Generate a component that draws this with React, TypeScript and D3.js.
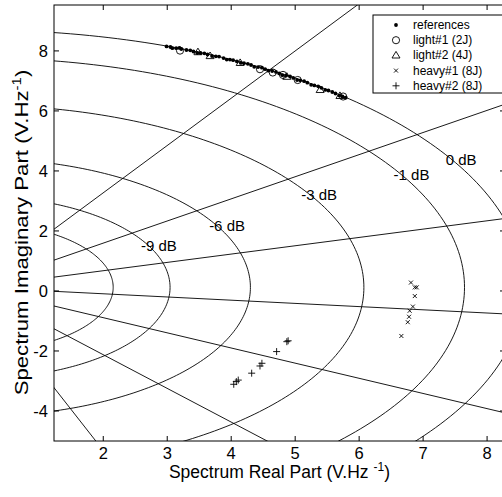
import React from 'react';
import * as d3 from 'd3';

const W = 502;
const H = 497;
const PLOT = { left: 54, top: 5, right: 505, bottom: 441 };

const X_DOMAIN: [number, number] = [1.23, 8.28];
const Y_DOMAIN: [number, number] = [-5.0, 9.53];
const X_TICKS = [2, 3, 4, 5, 6, 7, 8];
const Y_TICKS = [-4, -2, 0, 2, 4, 6, 8];

// constant-magnitude (dB) circles and constant-phase lines
const GRID_CX = 0;
const GRID_CY = 0.12;
const GRID_R0 = 8.58;
const DB_LEVELS = [0, -1, -3, -6, -9, -12];
const DB_LABEL_LEVELS = [0, -1, -3, -6, -9];
const DB_LABEL_ANGLES = [29.9, 29.4, 30.8, 28.5, 27.0];
const PHASE_ANGLES = [57.6, 36.4, 15.5, -6.1, -26.8, -48.3, -69.8];

const REF_X = [2.99, 3.05, 3.08, 3.14, 3.19, 3.22, 3.30, 3.36, 3.41, 3.47, 3.52, 3.58, 3.63, 3.70, 3.76, 3.81, 3.88, 3.93, 3.98, 4.03, 4.09, 4.15, 4.20, 4.26, 4.31, 4.36, 4.42, 4.48, 4.53, 4.58, 4.64, 4.70, 4.75, 4.80, 4.86, 4.92, 4.97, 5.03, 5.08, 5.14, 5.19, 5.25, 5.30, 5.36, 5.41, 5.47, 5.52, 5.58, 5.63, 5.69, 5.74, 5.79];
const REF_Y = [8.15, 8.13, 8.09, 8.09, 8.10, 8.06, 8.03, 8.02, 7.98, 7.93, 7.93, 7.92, 7.88, 7.83, 7.82, 7.81, 7.76, 7.71, 7.71, 7.69, 7.65, 7.60, 7.59, 7.57, 7.53, 7.47, 7.46, 7.44, 7.39, 7.34, 7.33, 7.30, 7.25, 7.19, 7.18, 7.15, 7.10, 7.03, 7.02, 6.99, 6.94, 6.87, 6.85, 6.82, 6.77, 6.70, 6.68, 6.63, 6.58, 6.51, 6.48, 6.44];

const LIGHT1_X = [3.20, 4.45, 4.65, 4.81, 5.04, 5.75];
const LIGHT1_Y = [8.01, 7.39, 7.28, 7.20, 7.03, 6.48];

const LIGHT2_X = [3.48, 3.67, 4.14, 4.87, 5.39, 5.70];
const LIGHT2_Y = [7.96, 7.83, 7.60, 7.14, 6.70, 6.50];

const HEAVY1_X = [6.81, 6.87, 6.90, 6.87, 6.84, 6.79, 6.78, 6.76, 6.66];
const HEAVY1_Y = [0.28, 0.12, 0.12, -0.17, -0.52, -0.66, -0.86, -1.04, -1.50];

const HEAVY2_X = [4.89, 4.87, 4.71, 4.48, 4.45, 4.32, 4.11, 4.08, 4.04];
const HEAVY2_Y = [-1.66, -1.69, -2.02, -2.41, -2.50, -2.74, -2.97, -3.02, -3.11];

const LEGEND_LABELS = ['references', 'light#1 (2J)', 'light#2 (4J)', 'heavy#1 (8J)', 'heavy#2 (8J)'];

const FONT = '"Liberation Sans", Arial, Helvetica, sans-serif';

type Kind = 'dot' | 'circle' | 'tri' | 'x' | 'plus';

function Marker({ kind, cx, cy }: { kind: Kind; cx: number; cy: number }) {
  if (kind === 'dot') return <circle cx={cx} cy={cy} r={1.9} fill="#000" />;
  if (kind === 'circle') return <circle cx={cx} cy={cy} r={3.6} fill="none" stroke="#000" strokeWidth={0.9} />;
  if (kind === 'tri')
    return (
      <path
        d={`M${cx},${cy - 4} L${cx + 4},${cy + 2.6} L${cx - 4},${cy + 2.6} Z`}
        fill="none"
        stroke="#000"
        strokeWidth={0.9}
      />
    );
  if (kind === 'x')
    return (
      <path
        d={`M${cx - 2},${cy - 2} L${cx + 2},${cy + 2} M${cx - 2},${cy + 2} L${cx + 2},${cy - 2}`}
        stroke="#000"
        strokeWidth={0.9}
      />
    );
  return (
    <path
      d={`M${cx - 3.5},${cy} L${cx + 3.5},${cy} M${cx},${cy - 3.5} L${cx},${cy + 3.5}`}
      stroke="#000"
      strokeWidth={0.9}
    />
  );
}

export default function App() {
  const x = d3.scaleLinear().domain(X_DOMAIN).range([PLOT.left, PLOT.right]);
  const y = d3.scaleLinear().domain(Y_DOMAIN).range([PLOT.bottom, PLOT.top]);

  const line = d3
    .line<[number, number]>()
    .x((d) => x(d[0]))
    .y((d) => y(d[1]));

  const radius = (db: number) => GRID_R0 * Math.pow(10, db / 20);
  const circlePath = (r: number) =>
    line(d3.range(0, 361, 1).map((a) => [GRID_CX + r * Math.cos((a * Math.PI) / 180), GRID_CY + r * Math.sin((a * Math.PI) / 180)] as [number, number]));
  const rayPath = (deg: number) => {
    const t = (deg * Math.PI) / 180;
    return line([
      [GRID_CX, GRID_CY],
      [GRID_CX + 40 * Math.cos(t), GRID_CY + 40 * Math.sin(t)],
    ]);
  };

  const series: { kind: Kind; xs: number[]; ys: number[] }[] = [
    { kind: 'dot', xs: REF_X, ys: REF_Y },
    { kind: 'circle', xs: LIGHT1_X, ys: LIGHT1_Y },
    { kind: 'tri', xs: LIGHT2_X, ys: LIGHT2_Y },
    { kind: 'x', xs: HEAVY1_X, ys: HEAVY1_Y },
    { kind: 'plus', xs: HEAVY2_X, ys: HEAVY2_Y },
  ];

  const legendX = 373;
  const legendY = 15;
  const rowH = 15.2;

  return (
    <svg
      width={W}
      height={H}
      viewBox={`0 0 ${W} ${H}`}
      style={{ position: 'absolute', left: 0, top: 0, background: '#fff' }}
      fontFamily={FONT}
    >
      <defs>
        <clipPath id="plotClip">
          <rect x={PLOT.left} y={PLOT.top} width={PLOT.right - PLOT.left} height={PLOT.bottom - PLOT.top} />
        </clipPath>
      </defs>
      <rect x={0} y={0} width={W} height={H} fill="#fff" />

      <g clipPath="url(#plotClip)" fill="none" stroke="#000" strokeWidth={0.9}>
        {DB_LEVELS.map((db) => (
          <path key={`c${db}`} d={circlePath(radius(db)) || ''} />
        ))}
        {PHASE_ANGLES.map((a) => (
          <path key={`l${a}`} d={rayPath(a) || ''} />
        ))}
      </g>

      <g fontSize={15} fill="#000">
        {DB_LABEL_LEVELS.map((db, i) => {
          const t = (DB_LABEL_ANGLES[i] * Math.PI) / 180;
          const r = radius(db);
          const px = x(GRID_CX + r * Math.cos(t));
          const py = y(GRID_CY + r * Math.sin(t));
          return (
            <text key={`t${db}`} x={px + 10} y={py} textAnchor="middle" dominantBaseline="central">
              {`${db} dB`}
            </text>
          );
        })}
      </g>

      <g clipPath="url(#plotClip)">
        {series.map((s, si) =>
          s.xs.map((v, i) => <Marker key={`m${si}-${i}`} kind={s.kind} cx={x(v)} cy={y(s.ys[i])} />)
        )}
      </g>

      {/* axes box */}
      <rect
        x={PLOT.left}
        y={PLOT.top}
        width={PLOT.right - PLOT.left}
        height={PLOT.bottom - PLOT.top}
        fill="none"
        stroke="#000"
        strokeWidth={1}
      />
      <g stroke="#000" strokeWidth={1}>
        {X_TICKS.map((t) => (
          <g key={`xt${t}`}>
            <line x1={x(t)} x2={x(t)} y1={PLOT.bottom} y2={PLOT.bottom - 5} />
            <line x1={x(t)} x2={x(t)} y1={PLOT.top} y2={PLOT.top + 5} />
          </g>
        ))}
        {Y_TICKS.map((t) => (
          <g key={`yt${t}`}>
            <line x1={PLOT.left} x2={PLOT.left + 5} y1={y(t)} y2={y(t)} />
            <line x1={PLOT.right} x2={PLOT.right - 5} y1={y(t)} y2={y(t)} />
          </g>
        ))}
      </g>
      <g fontSize={16.5} fill="#000">
        {X_TICKS.map((t) => (
          <text key={`xl${t}`} x={x(t)} y={PLOT.bottom + 6} dy="0.72em" textAnchor="middle">
            {t}
          </text>
        ))}
        {Y_TICKS.map((t) => (
          <text key={`yl${t}`} x={PLOT.left - 6} y={y(t)} textAnchor="end" dominantBaseline="central">
            {t}
          </text>
        ))}
      </g>

      {/* axis titles */}
      <text x={279.5} y={478} textAnchor="middle" fontSize={17.5} fill="#000">
        Spectrum Real Part (V.Hz
        <tspan dx={5} dy={-7} fontSize={12}>-1</tspan>
        <tspan dy={7}>)</tspan>
      </text>
      <text
        transform={`translate(28,232.5) rotate(-90) scale(1.2,1)`}
        textAnchor="middle"
        fontSize={18.5}
        fill="#000"
      >
        Spectrum Imaginary Part (V.Hz
        <tspan dy={-7} fontSize={12.5}>-1</tspan>
        <tspan dy={7}>)</tspan>
      </text>

      {/* legend */}
      <rect x={legendX} y={legendY} width={150} height={78} fill="#fff" stroke="#000" strokeWidth={1} />
      {LEGEND_LABELS.map((lab, i) => {
        const cy = legendY + 10 + i * rowH;
        const kinds: Kind[] = ['dot', 'circle', 'tri', 'x', 'plus'];
        return (
          <g key={`lg${i}`}>
            <Marker kind={kinds[i]} cx={396} cy={cy} />
            <text x={413} y={cy} dominantBaseline="central" fontSize={12} fill="#000">
              {lab}
            </text>
          </g>
        );
      })}
    </svg>
  );
}
